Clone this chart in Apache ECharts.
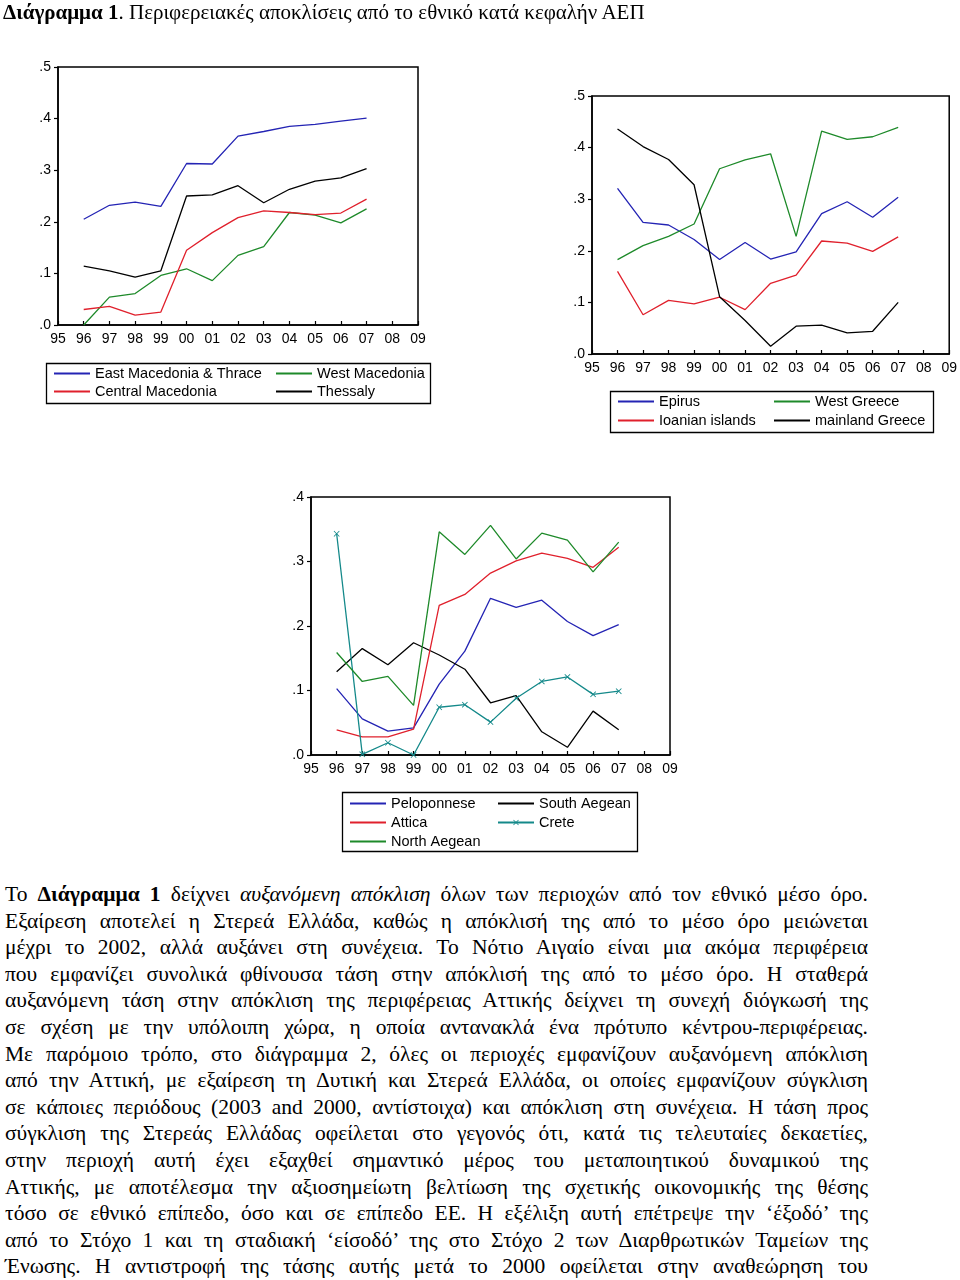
<!DOCTYPE html>
<html><head><meta charset="utf-8">
<script src="https://cdn.jsdelivr.net/npm/echarts@6/dist/echarts.min.js"></script>
<style>
html,body{margin:0;padding:0;background:#fff;width:960px;height:1280px;overflow:hidden;}
#chart{position:absolute;left:0;top:0;width:960px;height:870px;}
#title{position:absolute;left:3px;top:0px;font-family:"Liberation Serif",serif;font-size:21px;color:#000;white-space:nowrap;line-height:24px;}
#body{position:absolute;left:5px;top:881px;width:863px;font-family:"Liberation Serif",serif;font-size:21.5px;color:#000;}
#body div{height:26.6px;line-height:26.6px;text-align:justify;text-align-last:justify;white-space:nowrap;}
</style></head>
<body>
<div id="chart"></div>
<div id="title"><b>Διάγραμμα 1</b>. Περιφερειακές αποκλίσεις από το εθνικό κατά κεφαλήν ΑΕΠ</div>
<div id="body"></div>
<script>
// ---- data ----
const axisYears = ['95','96','97','98','99','00','01','02','03','04','05','06','07','08','09'];
const dataYears = ['96','97','98','99','00','01','02','03','04','05','06','07'];

// Panel 1
const eastMacedoniaThrace = [0.205,0.232,0.238,0.230,0.313,0.312,0.366,0.375,0.385,0.389,0.395,0.401];
const westMacedonia       = [0.000,0.054,0.061,0.096,0.109,0.086,0.135,0.152,0.218,0.213,0.198,0.225];
const centralMacedonia    = [0.030,0.036,0.019,0.025,0.145,0.179,0.208,0.221,0.218,0.214,0.217,0.244];
const thessaly            = [0.114,0.105,0.093,0.105,0.250,0.252,0.270,0.237,0.263,0.279,0.285,0.303];
// Panel 2
const epirus        = [0.321,0.255,0.250,0.222,0.183,0.216,0.184,0.198,0.272,0.295,0.265,0.304];
const westGreece    = [0.183,0.210,0.228,0.252,0.359,0.376,0.388,0.228,0.432,0.416,0.421,0.439];
const ionianIslands = [0.160,0.076,0.104,0.097,0.110,0.086,0.137,0.153,0.219,0.215,0.199,0.227];
const mainlandGreece= [0.436,0.402,0.377,0.328,0.111,0.065,0.015,0.054,0.056,0.041,0.044,0.100];
// Panel 3
const peloponnese  = [0.103,0.056,0.037,0.042,0.110,0.161,0.243,0.229,0.240,0.207,0.185,0.202];
const attica       = [0.039,0.028,0.028,0.040,0.232,0.249,0.282,0.301,0.313,0.305,0.291,0.322];
const northAegean  = [0.159,0.114,0.122,0.077,0.346,0.311,0.356,0.304,0.344,0.333,0.284,0.330];
const southAegean  = [0.129,0.165,0.140,0.174,0.155,0.133,0.081,0.092,0.036,0.012,0.068,0.039];
const crete        = [0.343,0.001,0.019,0.000,0.074,0.078,0.051,0.088,0.114,0.121,0.094,0.099];

const bodyLines = [
 'Το <b>Διάγραμμα 1</b> δείχνει <i>αυξανόμενη απόκλιση</i> όλων των περιοχών από τον εθνικό μέσο όρο.',
 'Εξαίρεση αποτελεί η Στερεά Ελλάδα, καθώς η απόκλισή της από το μέσο όρο μειώνεται',
 'μέχρι το 2002, αλλά αυξάνει στη συνέχεια. Το Νότιο Αιγαίο είναι μια ακόμα περιφέρεια',
 'που εμφανίζει συνολικά φθίνουσα τάση στην απόκλισή της από το μέσο όρο. Η σταθερά',
 'αυξανόμενη τάση στην απόκλιση της περιφέρειας Αττικής δείχνει τη συνεχή διόγκωσή της',
 'σε σχέση με την υπόλοιπη χώρα, η οποία αντανακλά ένα πρότυπο κέντρου-περιφέρειας.',
 'Με παρόμοιο τρόπο, στο διάγραμμα 2, όλες οι περιοχές εμφανίζουν αυξανόμενη απόκλιση',
 'από την Αττική, με εξαίρεση τη Δυτική και Στερεά Ελλάδα, οι οποίες εμφανίζουν σύγκλιση',
 'σε κάποιες περιόδους (2003 and 2000, αντίστοιχα) και απόκλιση στη συνέχεια. Η τάση προς',
 'σύγκλιση της Στερεάς Ελλάδας οφείλεται στο γεγονός ότι, κατά τις τελευταίες δεκαετίες,',
 'στην περιοχή αυτή έχει εξαχθεί σημαντικό μέρος του μεταποιητικού δυναμικού της',
 'Αττικής, με αποτέλεσμα την αξιοσημείωτη βελτίωση της σχετικής οικονομικής της θέσης',
 'τόσο σε εθνικό επίπεδο, όσο και σε επίπεδο ΕΕ. Η εξέλιξη αυτή επέτρεψε την ‘έξοδό’ της',
 'από το Στόχο 1 και τη σταδιακή ‘είσοδό’ της στο Στόχο 2 των Διαρθρωτικών Ταμείων της',
 'Ένωσης. Η αντιστροφή της τάσης αυτής μετά το 2000 οφείλεται στην αναθεώρηση του'
];
document.getElementById('body').innerHTML = bodyLines.map(l => '<div>' + l + '</div>').join('');

// ---- styles ----
const BLUE = '#2424b4', RED = '#e0202c', GREEN = '#1e8a2a', BLACK = '#000000', TEAL = '#14898a';
const sans = 'Liberation Sans, Arial, sans-serif';
const pairs = vals => vals.map((v, i) => [dataYears[i], v]);

function xAxis(gi) {
  return {
    type: 'category', gridIndex: gi, data: axisYears, boundaryGap: false,
    axisLine: {lineStyle: {color: '#000', width: 1.5}},
    axisTick: {show: true, inside: true, length: 4, lineStyle: {color: '#000', width: 1.2}, interval: 0},
    axisLabel: {color: '#000', fontFamily: sans, fontSize: 14, margin: 7, interval: 0},
    splitLine: {show: false}
  };
}
function yAxis(gi, max) {
  return {
    type: 'value', gridIndex: gi, min: 0, max: max, interval: 0.1,
    axisLine: {show: true, lineStyle: {color: '#000', width: 1.5}},
    axisTick: {show: true, inside: false, length: 4, lineStyle: {color: '#000', width: 1.2}},
    axisLabel: {color: '#000', fontFamily: sans, fontSize: 14, margin: 7,
                formatter: v => v.toFixed(1).slice(1)},
    splitLine: {show: false}
  };
}
function line(name, vals, color, gi, extra) {
  return Object.assign({
    name: name, type: 'line', xAxisIndex: gi, yAxisIndex: gi,
    data: pairs(vals), symbol: 'none', showSymbol: false,
    lineStyle: {color: color, width: 1.3}, itemStyle: {color: color},
    silent: true, animation: false, z: 3
  }, extra || {});
}
const crossPath = 'path://M0,1L1,0L5,4L9,0L10,1L6,5L10,9L9,10L5,6L1,10L0,9L4,5Z';

function legend(names, left, top, gap) {
  return {
    orient: 'vertical', left: left, top: top, data: names,
    itemWidth: 36, itemHeight: 7, itemGap: gap, padding: 0,
    selectedMode: false,
    itemStyle: {color: 'rgba(0,0,0,0)', borderWidth: 0},
    textStyle: {color: '#000', fontFamily: sans, fontSize: 14.5}
  };
}

const option = {
  animation: false,
  grid: [
    {left: 58, top: 67, width: 360, height: 258, show: true, borderColor: '#000', borderWidth: 1.5},
    {left: 592, top: 96, width: 360, height: 258, show: true, borderColor: '#000', borderWidth: 1.5},
    {left: 311, top: 497, width: 359, height: 258, show: true, borderColor: '#000', borderWidth: 1.5}
  ],
  xAxis: [xAxis(0), xAxis(1), xAxis(2)],
  yAxis: [yAxis(0, 0.5), yAxis(1, 0.5), yAxis(2, 0.4)],
  legend: [
    legend(['East Macedonia & Thrace', 'Central Macedonia'], 53, 366, 3),
    legend(['West Macedonia', 'Thessaly'], 275, 366, 3),
    legend(['Epirus', 'Ioanian islands'], 617, 394, 4),
    legend(['West Greece', 'mainland Greece'], 773, 394, 4),
    legend(['Peloponnese', 'Attica', 'North Aegean'], 349, 796, 4),
    legend(['South Aegean', {name: 'Crete', itemStyle: {color: TEAL}}], 497, 796, 4)
  ],
  graphic: [
    {type: 'rect', shape: {x: 46.5, y: 363.5, width: 384, height: 40}, style: {fill: 'none', stroke: '#000', lineWidth: 1.3}, silent: true},
    {type: 'rect', shape: {x: 610.5, y: 391.5, width: 323, height: 41}, style: {fill: 'none', stroke: '#000', lineWidth: 1.3}, silent: true},
    {type: 'rect', shape: {x: 342.5, y: 792.5, width: 295, height: 59}, style: {fill: 'none', stroke: '#000', lineWidth: 1.3}, silent: true}
  ],
  series: [
    line('East Macedonia & Thrace', eastMacedoniaThrace, BLUE, 0),
    line('West Macedonia', westMacedonia, GREEN, 0),
    line('Central Macedonia', centralMacedonia, RED, 0),
    line('Thessaly', thessaly, BLACK, 0),
    line('Epirus', epirus, BLUE, 1),
    line('West Greece', westGreece, GREEN, 1),
    line('Ioanian islands', ionianIslands, RED, 1),
    line('mainland Greece', mainlandGreece, BLACK, 1),
    line('Peloponnese', peloponnese, BLUE, 2),
    line('South Aegean', southAegean, BLACK, 2),
    line('Attica', attica, RED, 2),
    line('Crete', crete, TEAL, 2, {symbol: crossPath, symbolSize: 6, showSymbol: true}),
    line('North Aegean', northAegean, GREEN, 2)
  ]
};
const chart = echarts.init(document.getElementById('chart'), null, {renderer: 'canvas'});
chart.setOption(option);
</script>
</body></html>
